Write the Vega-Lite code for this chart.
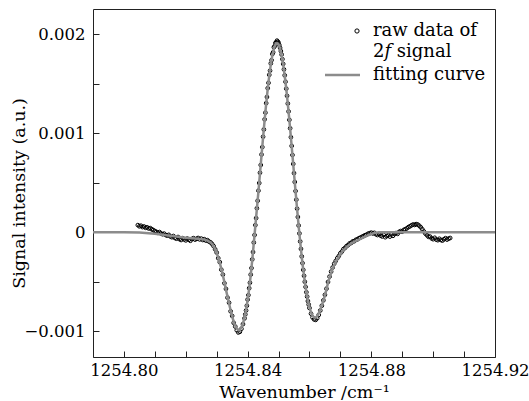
{
  "$schema": "https://vega.github.io/schema/vega-lite/v6.json",
  "width": 402,
  "height": 348,
  "autosize": "none",
  "padding": {"left": 93, "top": 9, "right": 34, "bottom": 44},
  "background": "white",
  "datasets": {
    "fit": [
      {"w":1254.79,"s":0},{"w":1254.80,"s":0},{"w":1254.805,"s":-0.000003},{"w":1254.810,"s":-0.000015},{"w":1254.815,"s":-0.000035},{"w":1254.820,"s":-0.000055},{"w":1254.824,"s":-0.000066},{"w":1254.826,"s":-0.000074},{"w":1254.827,"s":-0.000084},{"w":1254.828,"s":-0.000102},{"w":1254.8285,"s":-0.000118},{"w":1254.829,"s":-0.00014},{"w":1254.8295,"s":-0.00017},
      {"w":1254.830,"s":-0.00021},{"w":1254.8305,"s":-0.000255},{"w":1254.831,"s":-0.00031},{"w":1254.8315,"s":-0.00037},{"w":1254.832,"s":-0.000435},{"w":1254.8325,"s":-0.000505},{"w":1254.833,"s":-0.00058},{"w":1254.8335,"s":-0.00065},{"w":1254.834,"s":-0.00072},{"w":1254.8345,"s":-0.000788},{"w":1254.835,"s":-0.00085},{"w":1254.8355,"s":-0.000903},{"w":1254.836,"s":-0.000945},{"w":1254.8365,"s":-0.000972},{"w":1254.837,"s":-0.000988},{"w":1254.8375,"s":-0.000985},{"w":1254.838,"s":-0.00096},{"w":1254.8385,"s":-0.00092},{"w":1254.839,"s":-0.000862},{"w":1254.8395,"s":-0.000784},{"w":1254.840,"s":-0.000687},{"w":1254.8405,"s":-0.00057},{"w":1254.841,"s":-0.000435},{"w":1254.8415,"s":-0.00028},{"w":1254.842,"s":-0.00011},{"w":1254.8425,"s":0.000065},{"w":1254.843,"s":0.000235},{"w":1254.8435,"s":0.000413},{"w":1254.844,"s":0.000594},{"w":1254.8445,"s":0.000777},{"w":1254.845,"s":0.000957},{"w":1254.8455,"s":0.001132},{"w":1254.846,"s":0.001296},{"w":1254.8465,"s":0.001447},{"w":1254.847,"s":0.001581},{"w":1254.8475,"s":0.001696},{"w":1254.848,"s":0.001788},{"w":1254.8485,"s":0.001855},{"w":1254.849,"s":0.001896},{"w":1254.8495,"s":0.00191},{"w":1254.850,"s":0.001896},{"w":1254.8505,"s":0.001855},{"w":1254.851,"s":0.001788},{"w":1254.8515,"s":0.001696},{"w":1254.852,"s":0.001581},{"w":1254.8525,"s":0.001447},{"w":1254.853,"s":0.001296},{"w":1254.8535,"s":0.001132},{"w":1254.854,"s":0.000957},{"w":1254.8545,"s":0.000777},{"w":1254.855,"s":0.000594},{"w":1254.8555,"s":0.000413},{"w":1254.856,"s":0.000235},{"w":1254.8565,"s":0.000065},{"w":1254.857,"s":-0.000096},{"w":1254.8575,"s":-0.000247},{"w":1254.858,"s":-0.000383},{"w":1254.8585,"s":-0.000502},{"w":1254.859,"s":-0.000604},{"w":1254.8595,"s":-0.00069},{"w":1254.860,"s":-0.000758},{"w":1254.8605,"s":-0.000809},{"w":1254.861,"s":-0.000844},{"w":1254.8615,"s":-0.00086},{"w":1254.862,"s":-0.000862},{"w":1254.8625,"s":-0.000848},{"w":1254.863,"s":-0.00082},{"w":1254.8635,"s":-0.000782},{"w":1254.864,"s":-0.000738},{"w":1254.8645,"s":-0.00069},{"w":1254.865,"s":-0.00064},{"w":1254.8655,"s":-0.000577},{"w":1254.866,"s":-0.00051},{"w":1254.8665,"s":-0.000458},{"w":1254.867,"s":-0.00041},{"w":1254.8675,"s":-0.000368},{"w":1254.868,"s":-0.00033},
      {"w":1254.8685,"s":-0.0003},{"w":1254.869,"s":-0.000272},{"w":1254.8695,"s":-0.000246},{"w":1254.870,"s":-0.000222},{"w":1254.8705,"s":-0.000201},{"w":1254.871,"s":-0.000182},{"w":1254.8715,"s":-0.000165},{"w":1254.872,"s":-0.00015},{"w":1254.8725,"s":-0.000136},{"w":1254.873,"s":-0.000124},{"w":1254.8735,"s":-0.000113},{"w":1254.874,"s":-0.000104},{"w":1254.8745,"s":-0.000096},{"w":1254.875,"s":-0.000088},{"w":1254.876,"s":-0.000074},{"w":1254.877,"s":-0.00006},{"w":1254.878,"s":-0.000045},{"w":1254.879,"s":-0.00003},{"w":1254.880,"s":-0.000018},{"w":1254.881,"s":-0.000008},{"w":1254.882,"s":-0.000003},{"w":1254.883,"s":0},{"w":1254.92,"s":0}
    ],
    "raw": [
      {"w":1254.8045,"s":0.000072},{"w":1254.805,"s":0.00006},{"w":1254.8055,"s":0.000066},{"w":1254.806,"s":0.000052},{"w":1254.8065,"s":0.000058},{"w":1254.807,"s":0.000045},{"w":1254.8075,"s":0.00005},{"w":1254.808,"s":0.000038},{"w":1254.8085,"s":0.000042},{"w":1254.809,"s":0.00003},{"w":1254.8095,"s":0.000022},{"w":1254.810,"s":0.000012},{"w":1254.8105,"s":0.000004},{"w":1254.811,"s":-0.000006},{"w":1254.8115,"s":0.000002},{"w":1254.812,"s":-0.000012},{"w":1254.8125,"s":-0.00002},{"w":1254.813,"s":-0.000014},{"w":1254.8135,"s":-0.000028},{"w":1254.814,"s":-0.000034},{"w":1254.8145,"s":-0.000026},{"w":1254.815,"s":-0.000042},{"w":1254.8155,"s":-0.00005},{"w":1254.816,"s":-0.000038},{"w":1254.8165,"s":-0.000058},{"w":1254.817,"s":-0.000065},{"w":1254.8175,"s":-0.000048},{"w":1254.818,"s":-0.00007},{"w":1254.8185,"s":-0.000078},{"w":1254.819,"s":-0.00006},{"w":1254.8195,"s":-0.000072},{"w":1254.820,"s":-0.000082},{"w":1254.8205,"s":-0.000064},{"w":1254.821,"s":-0.000076},{"w":1254.8215,"s":-0.000086},{"w":1254.822,"s":-0.000068},{"w":1254.8225,"s":-0.00006},{"w":1254.823,"s":-0.000074},{"w":1254.8235,"s":-0.000066},{"w":1254.824,"s":-0.000058},{"w":1254.8245,"s":-0.000072},{"w":1254.825,"s":-0.000064},{"w":1254.8255,"s":-0.000078},{"w":1254.826,"s":-0.00007},{"w":1254.8265,"s":-0.000084},{"w":1254.827,"s":-0.00008},{"w":1254.8275,"s":-0.000094},{"w":1254.828,"s":-0.000102},{"w":1254.8285,"s":-0.000118},{"w":1254.829,"s":-0.00014},{"w":1254.8295,"s":-0.000172},
      {"w":1254.830,"s":-0.000205},{"w":1254.8305,"s":-0.000262},{"w":1254.831,"s":-0.000302},{"w":1254.8315,"s":-0.000378},{"w":1254.832,"s":-0.000428},{"w":1254.8325,"s":-0.000515},{"w":1254.833,"s":-0.000572},{"w":1254.8335,"s":-0.00066},{"w":1254.834,"s":-0.000712},{"w":1254.8345,"s":-0.000798},{"w":1254.835,"s":-0.000845},{"w":1254.8355,"s":-0.000915},{"w":1254.836,"s":-0.000952},{"w":1254.8365,"s":-0.00099},{"w":1254.837,"s":-0.001012},{"w":1254.8375,"s":-0.001005},{"w":1254.838,"s":-0.000975},{"w":1254.8385,"s":-0.000928},{"w":1254.839,"s":-0.00087},{"w":1254.83925,"s":-0.00083},{"w":1254.8395,"s":-0.00079},{"w":1254.83975,"s":-0.000742},{"w":1254.840,"s":-0.00068},{"w":1254.84025,"s":-0.000635},{"w":1254.8405,"s":-0.000565},{"w":1254.84075,"s":-0.00051},{"w":1254.841,"s":-0.000428},{"w":1254.84125,"s":-0.000362},{"w":1254.8415,"s":-0.000274},{"w":1254.84175,"s":-0.0002},{"w":1254.842,"s":-0.000104},{"w":1254.84225,"s":-0.000028},{"w":1254.8425,"s":0.000072},{"w":1254.84275,"s":0.000143},{"w":1254.843,"s":0.000242},{"w":1254.84325,"s":0.000318},{"w":1254.8435,"s":0.00042},{"w":1254.84375,"s":0.000497},{"w":1254.844,"s":0.000601},{"w":1254.84425,"s":0.000679},{"w":1254.8445,"s":0.000785},{"w":1254.84475,"s":0.00086},{"w":1254.845,"s":0.000965},{"w":1254.84525,"s":0.001038},{"w":1254.8455,"s":0.00114},{"w":1254.84575,"s":0.001208},{"w":1254.846,"s":0.001304},{"w":1254.84625,"s":0.001366},{"w":1254.8465,"s":0.001455},{"w":1254.84675,"s":0.001509},{"w":1254.847,"s":0.00159},{"w":1254.84725,"s":0.001632},{"w":1254.8475,"s":0.001705},{"w":1254.84775,"s":0.001738},{"w":1254.848,"s":0.0018},{"w":1254.84825,"s":0.001818},{"w":1254.8485,"s":0.001868},{"w":1254.84875,"s":0.00188},{"w":1254.849,"s":0.001912},{"w":1254.84925,"s":0.001918},{"w":1254.8495,"s":0.001935},{"w":1254.84975,"s":0.001925},{"w":1254.850,"s":0.001915},{"w":1254.85025,"s":0.00189},{"w":1254.8505,"s":0.001862},{"w":1254.85075,"s":0.00183},{"w":1254.851,"s":0.001795},{"w":1254.85125,"s":0.001748},{"w":1254.8515,"s":0.0017},{"w":1254.85175,"s":0.001645},{"w":1254.852,"s":0.001585},{"w":1254.85225,"s":0.00152},{"w":1254.8525,"s":0.00145},{"w":1254.85275,"s":0.001378},{"w":1254.853,"s":0.0013},{"w":1254.85325,"s":0.00122},{"w":1254.8535,"s":0.001135},{"w":1254.85375,"s":0.00105},{"w":1254.854,"s":0.00096},{"w":1254.85425,"s":0.000872},{"w":1254.8545,"s":0.00078},{"w":1254.85475,"s":0.00069},{"w":1254.855,"s":0.000597},{"w":1254.85525,"s":0.000508},{"w":1254.8555,"s":0.000416},{"w":1254.85575,"s":0.000329},{"w":1254.856,"s":0.000238},{"w":1254.85625,"s":0.000154},{"w":1254.8565,"s":0.000068},{"w":1254.85675,"s":-0.000012},{"w":1254.857,"s":-0.000093},{"w":1254.85725,"s":-0.000168},{"w":1254.8575,"s":-0.000244},{"w":1254.85775,"s":-0.000312},{"w":1254.858,"s":-0.00038},{"w":1254.85825,"s":-0.00044},{"w":1254.8585,"s":-0.0005},{"w":1254.85875,"s":-0.000552},{"w":1254.859,"s":-0.000606},{"w":1254.85925,"s":-0.00065},{"w":1254.8595,"s":-0.000695},{"w":1254.85975,"s":-0.00073},{"w":1254.860,"s":-0.000765},{"w":1254.8605,"s":-0.000822},{"w":1254.861,"s":-0.00086},{"w":1254.8615,"s":-0.00088},{"w":1254.862,"s":-0.000885},{"w":1254.8625,"s":-0.000868},{"w":1254.863,"s":-0.000835},{"w":1254.8635,"s":-0.00079},{"w":1254.864,"s":-0.000742},{"w":1254.8645,"s":-0.000688},{"w":1254.865,"s":-0.000632},{"w":1254.8655,"s":-0.00057},{"w":1254.866,"s":-0.000502},{"w":1254.8665,"s":-0.000448},{"w":1254.867,"s":-0.000398},{"w":1254.8675,"s":-0.000356},{"w":1254.868,"s":-0.000318},
      {"w":1254.8685,"s":-0.00029},{"w":1254.869,"s":-0.000262},{"w":1254.8695,"s":-0.00024},{"w":1254.870,"s":-0.000212},{"w":1254.8705,"s":-0.000195},{"w":1254.871,"s":-0.00017},{"w":1254.8715,"s":-0.000158},{"w":1254.872,"s":-0.00014},{"w":1254.8725,"s":-0.00013},{"w":1254.873,"s":-0.000112},{"w":1254.8735,"s":-0.000108},{"w":1254.874,"s":-0.000092},{"w":1254.8745,"s":-0.00009},{"w":1254.875,"s":-0.000076},{"w":1254.8755,"s":-0.000072},{"w":1254.876,"s":-0.00006},{"w":1254.8765,"s":-0.000054},{"w":1254.877,"s":-0.000046},{"w":1254.8775,"s":-0.000038},{"w":1254.878,"s":-0.00003},{"w":1254.8785,"s":-0.000024},{"w":1254.879,"s":-0.000014},{"w":1254.8795,"s":-0.00001},{"w":1254.880,"s":-0.000004},{"w":1254.8805,"s":-0.000012},{"w":1254.881,"s":-0.000006},{"w":1254.8815,"s":-0.00002},{"w":1254.882,"s":-0.000028},{"w":1254.8825,"s":-0.000016},{"w":1254.883,"s":-0.000034},{"w":1254.8835,"s":-0.000042},{"w":1254.884,"s":-0.000026},{"w":1254.8845,"s":-0.00005},{"w":1254.885,"s":-0.000038},{"w":1254.8855,"s":-0.00003},{"w":1254.886,"s":-0.000044},{"w":1254.8865,"s":-0.000022},{"w":1254.887,"s":-0.000036},{"w":1254.8875,"s":-0.000018},{"w":1254.888,"s":-0.000008},{"w":1254.8885,"s":-0.000016},{"w":1254.889,"s":0.000004},{"w":1254.8895,"s":0.000012},{"w":1254.890,"s":0.000006},{"w":1254.8905,"s":0.000024},{"w":1254.891,"s":0.00003},{"w":1254.8915,"s":0.00004},{"w":1254.892,"s":0.000052},{"w":1254.8925,"s":0.00006},{"w":1254.893,"s":0.00007},{"w":1254.8935,"s":0.000078},{"w":1254.894,"s":0.000074},{"w":1254.8945,"s":0.000082},{"w":1254.895,"s":0.000078},{"w":1254.8955,"s":0.000066},{"w":1254.896,"s":0.00005},{"w":1254.8965,"s":0.00003},{"w":1254.897,"s":0.000008},{"w":1254.8975,"s":-0.000014},{"w":1254.898,"s":-0.00003},{"w":1254.8985,"s":-0.000046},{"w":1254.899,"s":-0.000044},{"w":1254.8995,"s":-0.000062},{"w":1254.900,"s":-0.00007},{"w":1254.9005,"s":-0.000056},{"w":1254.901,"s":-0.000074},{"w":1254.9015,"s":-0.00008},{"w":1254.902,"s":-0.000066},{"w":1254.9025,"s":-0.000078},{"w":1254.903,"s":-0.000084},{"w":1254.9035,"s":-0.00007},{"w":1254.904,"s":-0.00006},{"w":1254.9045,"s":-0.000074},{"w":1254.905,"s":-0.000064},{"w":1254.9055,"s":-0.000058}
    ]
  },
  "layer": [
    {
      "data": {"name": "raw"},
      "mark": {"type": "point", "shape": "circle", "filled": false, "size": 14, "strokeWidth": 1, "opacity": 1},
      "encoding": {
        "x": {"field": "w", "type": "quantitative"},
        "y": {"field": "s", "type": "quantitative"},
        "color": {"datum": "raw data of 2f signal"}
      }
    },
    {
      "data": {"name": "fit"},
      "mark": {"type": "line", "strokeWidth": 2.5},
      "encoding": {
        "x": {
          "field": "w", "type": "quantitative",
          "scale": {"domain": [1254.79, 1254.92], "nice": false, "zero": false},
          "axis": {
            "title": "Wavenumber /cm⁻¹",
            "tickValues": [1254.80, 1254.82, 1254.84, 1254.86, 1254.88, 1254.90, 1254.92],
            "labelExpr": "abs((datum.value-1254.8)/0.04 - round((datum.value-1254.8)/0.04)) < 0.01 ? format(datum.value, '.2f') : ''",
            "tickSize": -6,
            "labelPadding": 11,
            "titlePadding": 5,
            "titleX": 211,
            "labelFlush": false,
            "labelOverlap": false,
            "encode": {"ticks": {"update": {"y2": {"signal": "abs((datum.value-1254.8)/0.04 - round((datum.value-1254.8)/0.04)) < 0.01 ? -6 : -3"}}}}
          }
        },
        "y": {
          "field": "s", "type": "quantitative",
          "scale": {"domain": [-0.00126, 0.002255], "nice": false, "zero": false},
          "axis": {
            "title": "Signal intensity (a.u.)",
            "tickValues": [-0.001, -0.0005, 0, 0.0005, 0.001, 0.0015, 0.002],
            "labelExpr": "abs(datum.value*1000 - round(datum.value*1000)) > 0.01 ? '' : (abs(datum.value) < 0.00001 ? '0' : format(datum.value, '.3f'))",
            "tickSize": -6,
            "labelPadding": 14,
            "titleX": -65,
            "titleY": 184,
            "titleBaseline": "bottom",
            "labelOverlap": false,
            "encode": {"ticks": {"update": {"x2": {"signal": "abs(datum.value*1000 - round(datum.value*1000)) < 0.01 ? 6 : 4"}}}}
          }
        },
        "color": {
          "datum": "fitting curve",
          "scale": {"domain": ["raw data of 2f signal", "fitting curve"], "range": ["black", "#8c8c8c"]},
          "legend": {
            "title": null,
            "orient": "none",
            "legendX": 232,
            "legendY": 13,
            "padding": 0,
            "symbolSize": 1225,
            "labelOffset": 30,
            "labelFont": "DejaVu Serif",
            "labelFontSize": 18,
            "labelColor": "black",
            "labelLimit": 300,
            "rowPadding": 5,
            "labelExpr": "datum.value === 'fitting curve' ? 'fitting curve' : ['raw data of', '2𝑓 signal']",
            "encode": {
              "symbols": {"update": {
                "shape": {"signal": "datum.value === 'fitting curve' ? 'stroke' : 'circle'"},
                "size": {"signal": "datum.value === 'fitting curve' ? 1225 : 18"},
                "strokeWidth": {"signal": "datum.value === 'fitting curve' ? 2.5 : 1"},
                "stroke": {"signal": "datum.value === 'fitting curve' ? '#8c8c8c' : 'black'"},
                "fill": {"value": "transparent"},
                "x": {"signal": "datum.value === 'fitting curve' ? 17.5 : 32"}
              }},
              "labels": {"update": {"lineHeight": {"value": 21}}}
            }
          }
        }
      }
    }
  ],
  "config": {
    "view": {"stroke": "#222222", "strokeWidth": 1},
    "axis": {
      "domain": false,
      "grid": false,
      "tickColor": "#222222",
      "tickWidth": 1,
      "labelFont": "DejaVu Serif",
      "labelFontSize": 16.5,
      "labelColor": "black",
      "titleFont": "DejaVu Serif",
      "titleFontSize": 17.5,
      "titleFontWeight": "normal",
      "titleColor": "black"
    }
  }
}
